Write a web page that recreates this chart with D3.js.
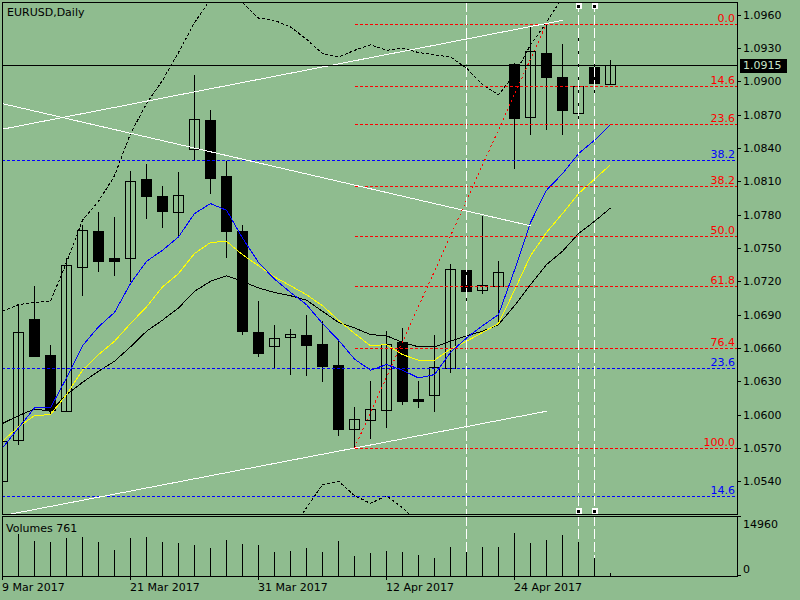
<!DOCTYPE html>
<html>
<head>
<meta charset="utf-8">
<script src="https://cdn.jsdelivr.net/npm/d3@7"></script>
<style>
html, body { margin: 0; padding: 0; background: #8fbc8f; }
svg { display: block; font-family: "DejaVu Sans", sans-serif; font-size: 11px; }
</style>
</head>
<body>
<svg id="chart" width="800" height="600"></svg>
<script>
// EURUSD daily candles, 9 Mar 2017 .. 2 May 2017
const dates = [
  "2017-03-09","2017-03-10","2017-03-13","2017-03-14","2017-03-15","2017-03-16","2017-03-17",
  "2017-03-20","2017-03-21","2017-03-22","2017-03-23","2017-03-24","2017-03-27","2017-03-28",
  "2017-03-29","2017-03-30","2017-03-31","2017-04-03","2017-04-04","2017-04-05","2017-04-06",
  "2017-04-07","2017-04-10","2017-04-11","2017-04-12","2017-04-13","2017-04-14","2017-04-17",
  "2017-04-18","2017-04-19","2017-04-20","2017-04-21","2017-04-24","2017-04-25","2017-04-26",
  "2017-04-27","2017-04-28","2017-05-01","2017-05-02"
];
const opens  = [1.0540,1.0577,1.0686,1.0654,1.0603,1.0733,1.0765,1.0741,1.0741,1.0812,1.0797,1.0782,1.0839,1.0865,1.0815,1.0765,1.0674,1.0662,1.0670,1.0672,1.0664,1.0645,1.0587,1.0595,1.0604,1.0665,1.0614,1.0618,1.0642,1.0730,1.0712,1.0716,1.0916,1.0868,1.0926,1.0904,1.0872,1.0913,1.0898];
const highs  = [1.0580,1.0699,1.0716,1.0663,1.0741,1.0771,1.0782,1.0778,1.0819,1.0826,1.0806,1.0818,1.0906,1.0874,1.0828,1.0771,1.0702,1.0681,1.0677,1.0690,1.0684,1.0666,1.0607,1.0630,1.0675,1.0678,1.0630,1.0672,1.0736,1.0737,1.0779,1.0738,1.0917,1.0950,1.0952,1.0934,1.0948,1.0925,1.0919];
const lows   = [1.0538,1.0573,1.0652,1.0600,1.0602,1.0707,1.0728,1.0725,1.0719,1.0776,1.0768,1.0760,1.0828,1.0799,1.0741,1.0672,1.0652,1.0642,1.0636,1.0635,1.0629,1.0581,1.0570,1.0578,1.0588,1.0609,1.0606,1.0602,1.0637,1.0700,1.0709,1.0683,1.0821,1.0852,1.0856,1.0852,1.0857,1.0884,1.0897];
const closes = [1.0576,1.0674,1.0653,1.0604,1.0735,1.0766,1.0738,1.0738,1.0810,1.0797,1.0783,1.0798,1.0866,1.0813,1.0765,1.0675,1.0655,1.0669,1.0673,1.0663,1.0644,1.0587,1.0596,1.0605,1.0664,1.0612,1.0612,1.0643,1.0731,1.0711,1.0717,1.0728,1.0867,1.0927,1.0904,1.0874,1.0896,1.0899,1.0915];
const volumes = [9500,10580,8880,8620,9640,9890,8620,6590,9640,9890,8620,8370,7860,7100,9130,8120,7860,6090,6340,7100,6090,8880,5070,5830,6340,6090,5330,4570,7350,6090,7350,7350,10900,8370,9130,10400,8620,4570,761];

// moving averages (blue fast, yellow middle, black slow)
const maBlue   = [1.0570,1.0588,1.0606,1.0606,1.0633,1.0662,1.0679,1.0692,1.0718,1.0738,1.0748,1.0760,1.0781,1.0790,1.0784,1.0759,1.0737,1.0722,1.0710,1.0699,1.0682,1.0667,1.0650,1.0640,1.0645,1.0640,1.0633,1.0636,1.0656,1.0669,1.0680,1.0690,1.0730,1.0773,1.0802,1.0817,1.0835,1.0847,1.0861];
const maYellow = [1.0576,1.0589,1.0599,1.0600,1.0618,1.0640,1.0654,1.0666,1.0682,1.0697,1.0715,1.0727,1.0745,1.0755,1.0756,1.0744,1.0734,1.0724,1.0716,1.0708,1.0698,1.0685,1.0673,1.0662,1.0663,1.0654,1.0649,1.0649,1.0659,1.0666,1.0674,1.0682,1.0712,1.0743,1.0764,1.0781,1.0799,1.0812,1.0825];
const maBlack  = [1.0592,1.0599,1.0605,1.0603,1.0618,1.0629,1.0639,1.0648,1.0661,1.0675,1.0685,1.0696,1.0711,1.0720,1.0725,1.0720,1.0714,1.0710,1.0707,1.0703,1.0693,1.0683,1.0678,1.0672,1.0671,1.0665,1.0661,1.0661,1.0666,1.0671,1.0675,1.0681,1.0698,1.0717,1.0735,1.0747,1.0763,1.0774,1.0786];

// bollinger bands (dashed black)
const bandUpper = [1.0693,1.0699,1.0701,1.0702,1.0737,1.0775,1.0792,1.0815,1.0853,1.0880,1.0901,1.0926,1.0953,1.0974,1.0996,1.0971,1.0957,1.0955,1.0949,1.0938,1.0925,1.0922,1.0928,1.0933,1.0928,1.0930,1.0926,1.0924,1.0922,1.0912,1.0897,1.0888,1.0906,1.0933,1.0953,1.0976,1.0991,1.1000,1.1009];
const bandLower = [1.0470,1.0468,1.0466,1.0465,1.0462,1.0458,1.0455,1.0452,1.0450,1.0447,1.0445,1.0443,1.0442,1.0444,1.0448,1.0455,1.0462,1.0470,1.0494,1.0516,1.0537,1.0540,1.0527,1.0520,1.0527,1.0516,1.0503,1.0490,1.0482,1.0478,1.0477,1.0476,1.0478,1.0480,1.0485,1.0492,1.0500,1.0505,1.0510];

const priceTicks = [1.0540,1.0570,1.0600,1.0630,1.0660,1.0690,1.0720,1.0750,1.0780,1.0810,1.0840,1.0870,1.0900,1.0930,1.0960];
const volumeTicks = [0, 14960];
const dateTicks = ["2017-03-09","2017-03-21","2017-03-31","2017-04-12","2017-04-24"];
const lastPrice = 1.0915;

// fibonacci retracements
const fiboLevels = [0, 14.6, 23.6, 38.2, 50, 61.8, 76.4, 100];
const fiboRedIdx = [22, 34];            // from the low to the high
const fiboRedPrice = [1.0570, 1.0952];
const fiboBluePrice = [1.0339, 1.1622]; // price at level 0 and level 100

// trend lines: [start index, end index], [start price, end price]
const trendIdx   = [[0, 35], [0, 33], [0, 34]];
const trendPrice = [[1.0857, 1.0955], [1.0880, 1.0770], [1.0509, 1.0603]];

// vertical lines
const vlineIdx = [29, 36, 37];
const selectedVline = [36, 37];

const svg = d3.select("#chart");
const W = 800, H = 600;
const left = 2, right = 737, mainTop = 2, mainBottom = 514, volTop = 516, volBottom = 576;

svg.append("rect").attr("width", W).attr("height", H).attr("fill", "#8fbc8f");

const x = d3.scalePoint().domain(dates).range([2.5, 610.5]);
const y = d3.scaleLinear().domain([1.0540, 1.0960]).range([481.2, 14.8]);
const vy = d3.scaleLinear().domain([0, 14960]).range([volBottom, 517]);
const xi = i => x(dates[i]);
const inMain = yy => yy > mainTop + 10 && yy < mainBottom;

const defs = svg.append("defs");
defs.append("clipPath").attr("id", "clipMain").append("rect")
  .attr("x", left + 1).attr("y", mainTop + 1)
  .attr("width", right - left - 1).attr("height", mainBottom - mainTop - 1);
defs.append("clipPath").attr("id", "clipVol").append("rect")
  .attr("x", left + 1).attr("y", volTop + 1)
  .attr("width", right - left - 1).attr("height", volBottom - volTop - 1);

const main = svg.append("g").attr("clip-path", "url(#clipMain)").attr("shape-rendering", "crispEdges");
const vol = svg.append("g").attr("clip-path", "url(#clipVol)").attr("shape-rendering", "crispEdges");

const idx = d3.range(dates.length);

// candles
const candles = main.append("g");
candles.selectAll("line.wick").data(idx).enter().append("line")
  .attr("class", "wick")
  .attr("x1", i => xi(i)).attr("x2", i => xi(i))
  .attr("y1", i => Math.round(y(highs[i]))).attr("y2", i => Math.round(y(lows[i])))
  .attr("stroke", "#000");
candles.selectAll("rect.body").data(idx).enter().append("rect")
  .attr("class", "body")
  .attr("x", i => xi(i) - 5)
  .attr("width", 10)
  .attr("y", i => Math.round(y(Math.max(opens[i], closes[i]))) + 0.5)
  .attr("height", i => Math.max(1, Math.round(y(Math.min(opens[i], closes[i]))) - Math.round(y(Math.max(opens[i], closes[i])))))
  .attr("fill", i => closes[i] < opens[i] ? "#000" : "none")
  .attr("stroke", "#000");

// moving averages
const maLine = d3.line().x((d, i) => xi(i)).y(d => y(d));
[[maBlack, "#000"], [maYellow, "#ffff00"], [maBlue, "#0000ff"]].forEach(([s, c]) => {
  main.append("path").attr("d", maLine(s)).attr("fill", "none").attr("stroke", c).attr("stroke-width", 1);
});

// bollinger bands
[bandUpper, bandLower].forEach(s => {
  main.append("path").attr("d", maLine(s)).attr("fill", "none")
    .attr("stroke", "#000").attr("stroke-dasharray", "3,2");
});

// blue fibo levels, full width
const fiboBlue = main.append("g");
fiboLevels.forEach(l => {
  const p = fiboBluePrice[0] + (fiboBluePrice[1] - fiboBluePrice[0]) * l / 100;
  const yy = Math.round(y(p)) + 0.5;
  if (!inMain(yy)) return;
  fiboBlue.append("line").attr("x1", left).attr("x2", right).attr("y1", yy).attr("y2", yy)
    .attr("stroke", "#0000ff").attr("stroke-dasharray", "3,2");
  fiboBlue.append("text").attr("x", right - 2).attr("y", yy - 3).attr("text-anchor", "end")
    .attr("fill", "#0000ff").text(d3.format(".1f")(l));
});

// red fibo levels from the low candle to the right edge
const fiboRed = main.append("g");
const hi = fiboRedPrice[1], lo = fiboRedPrice[0];
fiboLevels.forEach(l => {
  const p = hi - (hi - lo) * l / 100;
  const yy = Math.round(y(p)) + 0.5;
  if (!inMain(yy)) return;
  fiboRed.append("line").attr("x1", xi(fiboRedIdx[0])).attr("x2", right).attr("y1", yy).attr("y2", yy)
    .attr("stroke", "#ff0000").attr("stroke-dasharray", "3,2");
  fiboRed.append("text").attr("x", right - 2).attr("y", yy - 3).attr("text-anchor", "end")
    .attr("fill", "#ff0000").text(d3.format(".1f")(l));
});
fiboRed.append("line")
  .attr("x1", xi(fiboRedIdx[0])).attr("y1", y(fiboRedPrice[0]))
  .attr("x2", xi(fiboRedIdx[1])).attr("y2", y(fiboRedPrice[1]))
  .attr("stroke", "#ff0000").attr("stroke-dasharray", "2,3");

// trend lines
trendIdx.forEach((t, k) => {
  main.append("line")
    .attr("x1", xi(t[0])).attr("y1", y(trendPrice[k][0]))
    .attr("x2", xi(t[1])).attr("y2", y(trendPrice[k][1]))
    .attr("stroke", "#fff");
});

// vertical lines, main panel and volume panel
vlineIdx.forEach(i => {
  main.append("line").attr("x1", xi(i)).attr("x2", xi(i)).attr("y1", mainTop).attr("y2", mainBottom)
    .attr("stroke", "#fff").attr("stroke-dasharray", "10,3");
  vol.append("line").attr("x1", xi(i)).attr("x2", xi(i)).attr("y1", volTop).attr("y2", volBottom)
    .attr("stroke", "#fff").attr("stroke-dasharray", "10,3");
});

// current price line
const py = Math.round(y(lastPrice)) + 0.5;
main.append("line").attr("x1", left).attr("x2", right).attr("y1", py).attr("y2", py).attr("stroke", "#000");

// selection handles on the vertical lines
selectedVline.forEach(i => {
  [6, mainBottom - 3].forEach(cy => {
    main.append("rect").attr("x", xi(i) - 3).attr("y", cy - 3).attr("width", 6).attr("height", 6).attr("fill", "#fff");
    main.append("rect").attr("x", xi(i) - 1.5).attr("y", cy - 1.5).attr("width", 3).attr("height", 3).attr("fill", "#000");
  });
});

// volumes
vol.selectAll("line.vol").data(idx).enter().append("line")
  .attr("class", "vol")
  .attr("x1", i => xi(i)).attr("x2", i => xi(i))
  .attr("y1", vy(0)).attr("y2", i => Math.round(vy(volumes[i])))
  .attr("stroke", "#000");

// panel frames
const frames = svg.append("g").attr("shape-rendering", "crispEdges").attr("fill", "none").attr("stroke", "#000");
frames.append("rect").attr("x", left + 0.5).attr("y", mainTop + 0.5).attr("width", right - left).attr("height", mainBottom - mainTop);
frames.append("rect").attr("x", left + 0.5).attr("y", volTop + 0.5).attr("width", right - left).attr("height", volBottom - volTop);

// price axis
const axisG = svg.append("g").attr("shape-rendering", "crispEdges");
priceTicks.forEach(p => {
  const yy = Math.round(y(p)) + 0.5;
  axisG.append("line").attr("x1", right).attr("x2", right + 4).attr("y1", yy).attr("y2", yy).attr("stroke", "#000");
  axisG.append("text").attr("x", right + 6).attr("y", yy).attr("dy", "0.35em").attr("fill", "#000").text(d3.format(".4f")(p));
});

// last price marker
axisG.append("rect").attr("x", right + 3).attr("y", py - 7).attr("width", 47).attr("height", 14).attr("fill", "#000");
axisG.append("text").attr("x", right + 6).attr("y", py).attr("dy", "0.35em").attr("fill", "#c8e4c8").text(d3.format(".4f")(lastPrice));

// volume axis
volumeTicks.forEach(v => {
  const yy = Math.round(vy(v)) - 0.5;
  axisG.append("line").attr("x1", right).attr("x2", right + 4).attr("y1", yy).attr("y2", yy).attr("stroke", "#000");
  axisG.append("text").attr("x", right + 6).attr("y", v === 0 ? yy - 3 : yy + 11).attr("fill", "#000").text(v);
});

// date axis
const fmt = d3.timeFormat("%-d %b %Y");
const parse = d3.timeParse("%Y-%m-%d");
dateTicks.forEach(d => {
  const xx = x(d);
  axisG.append("line").attr("x1", xx).attr("x2", xx).attr("y1", volBottom).attr("y2", volBottom + 4).attr("stroke", "#000");
  axisG.append("text").attr("x", xx - 0.5).attr("y", 591).attr("fill", "#000").text(fmt(parse(d)));
});

// titles
svg.append("text").attr("x", 7).attr("y", 16).attr("fill", "#000").text("EURUSD,Daily");
svg.append("text").attr("x", 6).attr("y", 532).attr("fill", "#000").text("Volumes " + volumes[volumes.length - 1]);
</script>
</body>
</html>
